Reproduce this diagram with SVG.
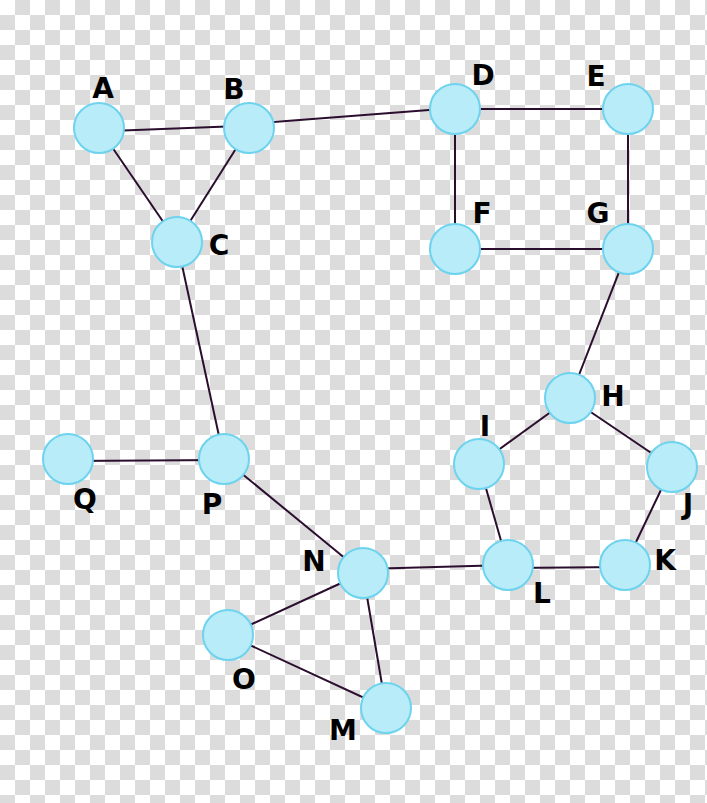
<svg xmlns="http://www.w3.org/2000/svg" width="707" height="803" viewBox="0 0 707 803">
<defs>
<pattern id="chk" width="30" height="30" patternUnits="userSpaceOnUse">
<rect width="30" height="30" fill="#ffffff"/>
<rect x="15" y="0" width="15" height="15" fill="#dcdcdc"/>
<rect x="0" y="15" width="15" height="15" fill="#dcdcdc"/>
</pattern>
<style>
.e{stroke:#2b0d2e;stroke-width:2;fill:none}
.n{fill:#b9ecf9;stroke:#6dd3ee;stroke-width:2}
.t{font-family:"DejaVu Sans",sans-serif;font-weight:bold;font-size:28px;fill:#000;text-anchor:middle}
</style>
</defs>
<rect width="707" height="803" fill="url(#chk)"/>
<g id="connectors">
<line class="e" x1="110" y1="131" x2="240" y2="126"/>
<line class="e" x1="99" y1="128" x2="177" y2="242"/>
<line class="e" x1="249" y1="128" x2="177" y2="242"/>
<line class="e" x1="249" y1="124" x2="455" y2="108"/>
<line class="e" x1="455" y1="109" x2="628" y2="109"/>
<line class="e" x1="455" y1="109" x2="455" y2="249"/>
<line class="e" x1="628" y1="109" x2="628" y2="249"/>
<line class="e" x1="455" y1="249" x2="628" y2="249"/>
<line class="e" x1="628" y1="249" x2="570" y2="398"/>
<line class="e" x1="177" y1="242" x2="224" y2="459"/>
<line class="e" x1="68" y1="461" x2="224" y2="460"/>
<line class="e" x1="224" y1="459" x2="363" y2="573"/>
<line class="e" x1="363" y1="569" x2="508" y2="565"/>
<line class="e" x1="363" y1="573" x2="228" y2="635"/>
<line class="e" x1="363" y1="573" x2="386" y2="708"/>
<line class="e" x1="228" y1="635" x2="386" y2="708"/>
<line class="e" x1="570" y1="398" x2="479" y2="464"/>
<line class="e" x1="570" y1="398" x2="672" y2="467"/>
<line class="e" x1="479" y1="464" x2="508" y2="565"/>
<line class="e" x1="672" y1="467" x2="625" y2="565"/>
<line class="e" x1="508" y1="568" x2="625" y2="567"/>
</g>
<g id="A"><circle class="n" cx="99" cy="128" r="25"/><text class="t" x="103" y="98">A</text></g>
<g id="B"><circle class="n" cx="249" cy="128" r="25"/><text class="t" x="234" y="99">B</text></g>
<g id="C"><circle class="n" cx="177" cy="242" r="25"/><text class="t" x="219" y="255">C</text></g>
<g id="D"><circle class="n" cx="455" cy="109" r="25"/><text class="t" x="483" y="85">D</text></g>
<g id="E"><circle class="n" cx="628" cy="109" r="25"/><text class="t" x="596" y="86">E</text></g>
<g id="F"><circle class="n" cx="455" cy="249" r="25"/><text class="t" x="482" y="223">F</text></g>
<g id="G"><circle class="n" cx="628" cy="249" r="25"/><text class="t" x="598" y="223">G</text></g>
<g id="H"><circle class="n" cx="570" cy="398" r="25"/><text class="t" x="613" y="406">H</text></g>
<g id="I"><circle class="n" cx="479" cy="464" r="25"/><text class="t" x="485" y="436">I</text></g>
<g id="J"><circle class="n" cx="672" cy="467" r="25"/><text class="t" x="688" y="514">J</text></g>
<g id="K"><circle class="n" cx="625" cy="565" r="25"/><text class="t" x="665" y="570">K</text></g>
<g id="L"><circle class="n" cx="508" cy="565" r="25"/><text class="t" x="542" y="603">L</text></g>
<g id="M"><circle class="n" cx="386" cy="708" r="25"/><text class="t" x="343" y="740">M</text></g>
<g id="N"><circle class="n" cx="363" cy="573" r="25"/><text class="t" x="314" y="571">N</text></g>
<g id="O"><circle class="n" cx="228" cy="635" r="25"/><text class="t" x="244" y="689">O</text></g>
<g id="P"><circle class="n" cx="224" cy="459" r="25"/><text class="t" x="212" y="514">P</text></g>
<g id="Q"><circle class="n" cx="68" cy="459" r="25"/><text class="t" x="85" y="509">Q</text></g>
</svg>
